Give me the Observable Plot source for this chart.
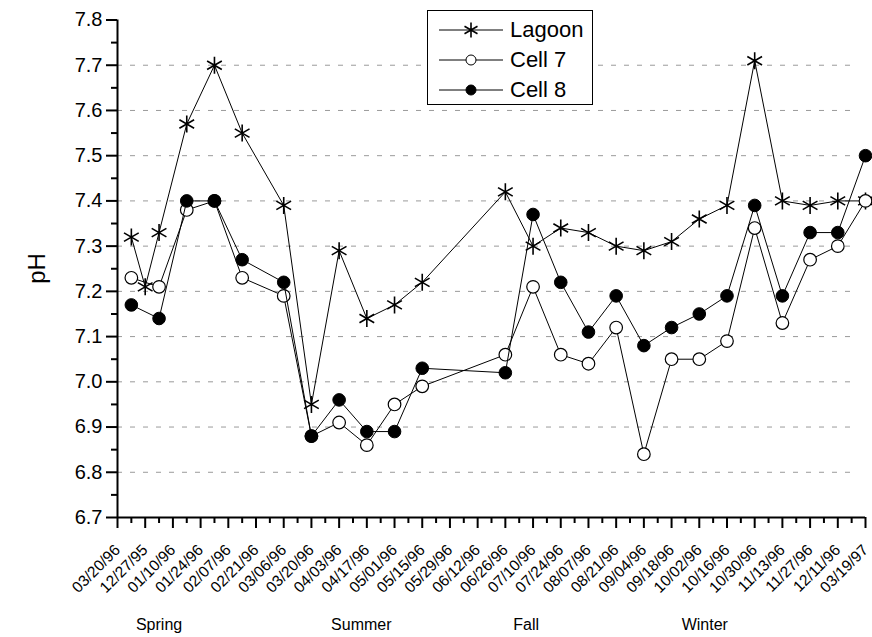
<!DOCTYPE html>
<html><head><meta charset="utf-8">
<script src="https://cdn.jsdelivr.net/npm/d3@7"></script>
<script src="https://cdn.jsdelivr.net/npm/@observablehq/plot@0.6"></script>
<style>
body{margin:0;background:#fff;font-family:"Liberation Sans",Arial,sans-serif;}
#wrap{position:relative;width:872px;height:637px;overflow:hidden;}
#legend{position:absolute;left:427px;top:10px;width:166px;height:95px;border:1px solid #000;background:#fff;box-sizing:border-box;}
.row{position:absolute;left:0;height:30px;width:166px;}
.row svg{position:absolute;left:0;top:0;}
.row span{position:absolute;left:82px;top:1px;font-size:22px;line-height:28px;color:#000;}
</style></head><body><div id="wrap"></div>
<script>
const tickLabels = ["03/20/96","12/27/95","01/10/96","01/24/96","02/07/96","02/21/96","03/06/96","03/20/96","04/03/96","04/17/96","05/01/96","05/15/96","05/29/96","06/12/96","06/26/96","07/10/96","07/24/96","08/07/96","08/21/96","09/04/96","09/18/96","10/02/96","10/16/96","10/30/96","11/13/96","11/27/96","12/11/96","03/19/97"];
const tickAt = d3.range(0, 28);
const minorTickAt = d3.range(0, 27).map(i => i + 0.5);
const yTicks = [6.7,6.8,6.9,7.0,7.1,7.2,7.3,7.4,7.5,7.6,7.7,7.8];
const yMinorTicks = [6.75,6.85,6.95,7.05,7.15,7.25,7.35,7.45,7.55,7.65,7.75];
const gridAt = [6.8,6.9,7.0,7.1,7.2,7.3,7.4,7.5,7.6,7.7];
const seasons = ["Spring","Summer","Fall","Winter"];
const seasonAt = [1.5, 8.8, 14.75, 21.2];

const lagoonAt = [0.5,1,1.5,2.5,3.5,4.5,6,7,8,9,10,11,14,15,16,17,18,19,20,21,22,23,24,25,26,27];
const lagoon   = [7.32,7.21,7.33,7.57,7.70,7.55,7.39,6.95,7.29,7.14,7.17,7.22,7.42,7.30,7.34,7.33,7.30,7.29,7.31,7.36,7.39,7.71,7.40,7.39,7.40,7.40];
const cellAt = [0.5,1.5,2.5,3.5,4.5,6,7,8,9,10,11,14,15,16,17,18,19,20,21,22,23,24,25,26,27];
const cell7  = [7.23,7.21,7.38,7.40,7.23,7.19,6.88,6.91,6.86,6.95,6.99,7.06,7.21,7.06,7.04,7.12,6.84,7.05,7.05,7.09,7.34,7.13,7.27,7.30,7.40];
const cell8  = [7.17,7.14,7.40,7.40,7.27,7.22,6.88,6.96,6.89,6.89,7.03,7.02,7.37,7.22,7.11,7.19,7.08,7.12,7.15,7.19,7.39,7.19,7.33,7.33,7.50];

const lagoonData = lagoonAt.map((x, i) => ({x, y: lagoon[i]}));
const cell7Data = cellAt.map((x, i) => ({x, y: cell7[i]}));
const cell8Data = cellAt.map((x, i) => ({x, y: cell8[i]}));

const starAngles = [90, 30, 150];
const star = {
  draw(ctx, size) {
    const r = Math.sqrt(size / Math.PI);
    for (const a of starAngles) {
      const t = a * Math.PI / 180, dx = r * Math.cos(t), dy = r * Math.sin(t);
      ctx.moveTo(-dx, -dy); ctx.lineTo(dx, dy);
    }
  }
};

const font = "Liberation Sans, Arial, sans-serif";
const chart = Plot.plot({
  width: 872, height: 637,
  marginLeft: 117, marginRight: 7, marginTop: 19.5, marginBottom: 120,
  style: {fontFamily: font, background: "white", overflow: "visible", color: "#000"},
  x: {domain: [0, 27]},
  y: {domain: [6.7, 7.8]},
  marks: [
    Plot.ruleY(gridAt, {stroke: "#9a9a9a", strokeDasharray: "5,8", x1: 0, x2: 26.7}),
    Plot.axisY({ticks: yTicks, tickSize: 11, tickPadding: 4, tickFormat: d => d.toFixed(1), fontSize: 20, strokeWidth: 2, label: null}),
    Plot.axisY({ticks: yMinorTicks, tickSize: 6, tickFormat: () => "", strokeWidth: 2, label: null}),
    Plot.axisX({ticks: tickAt, tickSize: 11, tickPadding: 19, tickRotate: -45, tickFormat: i => tickLabels[i], fontSize: 15.5, strokeWidth: 2, label: null}),
    Plot.axisX({ticks: minorTickAt, tickSize: 6, tickFormat: () => "", strokeWidth: 2, label: null}),
    Plot.ruleX([0], {strokeWidth: 2}),
    Plot.ruleY([6.7], {strokeWidth: 2}),
    Plot.line(lagoonData, {x: "x", y: "y", stroke: "#000", strokeWidth: 1}),
    Plot.dot(lagoonData, {x: "x", y: "y", symbol: star, r: 8.5, stroke: "#000", strokeWidth: 1.6, fill: "none"}),
    Plot.line(cell7Data, {x: "x", y: "y", stroke: "#000", strokeWidth: 1}),
    Plot.dot(cell7Data, {x: "x", y: "y", r: 6.3, stroke: "#000", strokeWidth: 1.2, fill: "#fff"}),
    Plot.line(cell8Data, {x: "x", y: "y", stroke: "#000", strokeWidth: 1}),
    Plot.dot(cell8Data, {x: "x", y: "y", r: 6.3, stroke: "#000", strokeWidth: 1, fill: "#000"}),
    Plot.text(seasons, {x: (d, i) => seasonAt[i], frameAnchor: "bottom", dy: 112, fontSize: 16, text: d => d}),
    Plot.text(["pH"], {frameAnchor: "left", dx: -80, dy: 15, rotate: -90, fontSize: 24, text: d => d})
  ]
});
const wrap = document.getElementById("wrap");
wrap.appendChild(chart);

// legend
const series = [
  {name: "Lagoon", kind: "star"},
  {name: "Cell 7", kind: "open"},
  {name: "Cell 8", kind: "filled"}
];
const legend = document.createElement("div");
legend.id = "legend";
series.forEach((s, i) => {
  const row = document.createElement("div");
  row.className = "row";
  row.style.top = (4 + i * 30) + "px";
  const ns = "http://www.w3.org/2000/svg";
  const svg = document.createElementNS(ns, "svg");
  svg.setAttribute("width", 80); svg.setAttribute("height", 30);
  const line = document.createElementNS(ns, "line");
  line.setAttribute("x1", 11); line.setAttribute("x2", 75);
  line.setAttribute("y1", 15); line.setAttribute("y2", 15);
  line.setAttribute("stroke", "#000"); line.setAttribute("stroke-width", 1);
  svg.appendChild(line);
  if (s.kind === "star") {
    const p = document.createElementNS(ns, "path");
    const r = 7.5;
    let d = "";
    for (const a of starAngles) {
      const t = a * Math.PI / 180, dx = r * Math.cos(t), dy = r * Math.sin(t);
      d += `M${43 - dx},${15 - dy}L${43 + dx},${15 + dy}`;
    }
    p.setAttribute("d", d); p.setAttribute("stroke", "#000"); p.setAttribute("stroke-width", 1.6);
    svg.appendChild(p);
  } else {
    const c = document.createElementNS(ns, "circle");
    c.setAttribute("cx", 43); c.setAttribute("cy", 15); c.setAttribute("r", 5);
    c.setAttribute("stroke", "#000"); c.setAttribute("fill", s.kind === "open" ? "#fff" : "#000");
    svg.appendChild(c);
  }
  row.appendChild(svg);
  const span = document.createElement("span");
  span.textContent = s.name;
  row.appendChild(span);
  legend.appendChild(row);
});
wrap.appendChild(legend);
</script>
</body></html>
